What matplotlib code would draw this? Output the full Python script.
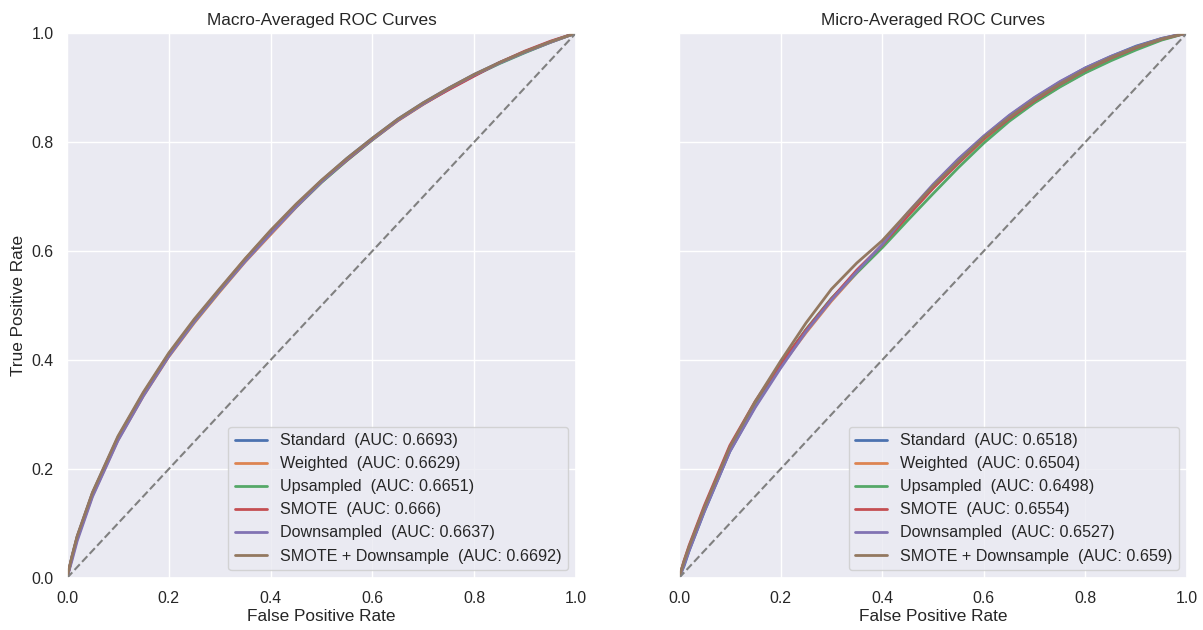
import matplotlib
matplotlib.use("Agg")
import matplotlib.pyplot as plt
import seaborn as sns

sns.set_theme(style="darkgrid", context="notebook")
plt.rcParams['font.family'] = ['Arial', 'Liberation Sans', 'DejaVu Sans']

model_names = ["Standard", "Weighted", "Upsampled", "SMOTE", "Downsampled", "SMOTE + Downsample"]
macro_auc = ["0.6693", "0.6629", "0.6651", "0.666", "0.6637", "0.6692"]
micro_auc = ["0.6518", "0.6504", "0.6498", "0.6554", "0.6527", "0.659"]

fpr = [0, 0.01, 0.02, 0.05, 0.1, 0.15, 0.2, 0.25, 0.3, 0.35, 0.4, 0.45,
       0.5, 0.55, 0.6, 0.65, 0.7, 0.75, 0.8, 0.85, 0.9, 0.95, 1.0]

macro_standard = [0, 0.040, 0.076, 0.156, 0.258, 0.339, 0.411, 0.473, 0.529, 0.584, 0.636, 0.684,
                  0.729, 0.770, 0.807, 0.842, 0.872, 0.899, 0.924, 0.946, 0.966, 0.984, 1.0]
macro_weighted = [0, 0.037, 0.072, 0.151, 0.253, 0.334, 0.406, 0.468, 0.525, 0.580, 0.630, 0.680,
                  0.726, 0.767, 0.804, 0.839, 0.869, 0.897, 0.922, 0.945, 0.965, 0.983, 1.0]
macro_upsampled = [0, 0.039, 0.074, 0.153, 0.255, 0.336, 0.408, 0.470, 0.527, 0.582, 0.633, 0.681,
                   0.726, 0.766, 0.804, 0.840, 0.870, 0.897, 0.922, 0.944, 0.964, 0.983, 1.0]
macro_smote = [0, 0.039, 0.075, 0.155, 0.257, 0.338, 0.410, 0.472, 0.529, 0.585, 0.636, 0.684,
               0.728, 0.767, 0.805, 0.840, 0.870, 0.896, 0.921, 0.946, 0.967, 0.985, 1.0]
macro_downsampled = [0, 0.033, 0.068, 0.149, 0.252, 0.334, 0.407, 0.470, 0.527, 0.581, 0.632, 0.681,
                     0.727, 0.768, 0.805, 0.840, 0.870, 0.898, 0.923, 0.945, 0.965, 0.983, 1.0]
macro_smote_down = [0, 0.041, 0.077, 0.157, 0.260, 0.341, 0.413, 0.475, 0.531, 0.586, 0.638, 0.686,
                    0.730, 0.770, 0.807, 0.842, 0.872, 0.899, 0.924, 0.946, 0.966, 0.984, 1.0]

micro_standard = [0, 0.022, 0.050, 0.122, 0.232, 0.315, 0.388, 0.455, 0.512, 0.562, 0.610, 0.668,
                  0.720, 0.768, 0.810, 0.848, 0.881, 0.910, 0.936, 0.957, 0.976, 0.990, 1.0]
micro_weighted = [0, 0.027, 0.054, 0.126, 0.236, 0.318, 0.388, 0.450, 0.508, 0.560, 0.608, 0.664,
                  0.716, 0.762, 0.804, 0.840, 0.873, 0.902, 0.928, 0.951, 0.971, 0.988, 1.0]
micro_upsampled = [0, 0.030, 0.056, 0.128, 0.238, 0.320, 0.392, 0.456, 0.513, 0.560, 0.606, 0.656,
                   0.705, 0.753, 0.798, 0.838, 0.872, 0.901, 0.927, 0.949, 0.969, 0.987, 1.0]
micro_smote = [0, 0.032, 0.060, 0.133, 0.243, 0.324, 0.393, 0.455, 0.512, 0.565, 0.611, 0.664,
               0.715, 0.761, 0.806, 0.843, 0.876, 0.906, 0.932, 0.954, 0.973, 0.989, 1.0]
micro_downsampled = [0, 0.025, 0.051, 0.123, 0.232, 0.313, 0.385, 0.452, 0.510, 0.562, 0.612, 0.670,
                     0.722, 0.769, 0.811, 0.849, 0.882, 0.911, 0.936, 0.957, 0.975, 0.990, 1.0]
micro_smote_down = [0, 0.031, 0.058, 0.130, 0.240, 0.324, 0.398, 0.468, 0.530, 0.578, 0.619, 0.670,
                    0.719, 0.764, 0.808, 0.845, 0.878, 0.907, 0.933, 0.955, 0.974, 0.989, 1.0]

macro_tpr = [macro_standard, macro_weighted, macro_upsampled, macro_smote, macro_downsampled, macro_smote_down]
micro_tpr = [micro_standard, micro_weighted, micro_upsampled, micro_smote, micro_downsampled, micro_smote_down]

colors = sns.color_palette("deep", 6)

W, H, DPI = 1203, 630, 100
fig = plt.figure(figsize=(W / DPI, H / DPI), dpi=DPI)
ax1 = fig.add_axes([67 / W, 1 - 578 / H, (576 - 67) / W, (578 - 33) / H])
ax2 = fig.add_axes([679 / W, 1 - 578 / H, (1187 - 679) / W, (578 - 33) / H], sharey=ax1)

for ax, tprs, aucs, title in [(ax1, macro_tpr, macro_auc, "Macro-Averaged ROC Curves"),
                              (ax2, micro_tpr, micro_auc, "Micro-Averaged ROC Curves")]:
    for name, t, a, c in zip(model_names, tprs, aucs, colors):
        ax.plot(fpr, t, color=c, lw=2, label=f"{name}  (AUC: {a})")
    ax.plot([0, 1], [0, 1], linestyle="--", color="grey", lw=1.5)
    ax.set_xlim(0, 1)
    ax.set_ylim(0, 1)
    ax.set_title(title, fontsize=12.4)
    ax.set_xlabel("False Positive Rate", fontsize=12.4, labelpad=2)
    ax.tick_params(labelsize=11.4)
    ax.legend(loc="lower right", fontsize=11.6)

ax1.set_ylabel("True Positive Rate", fontsize=12.4)
plt.setp(ax2.get_yticklabels(), visible=False)

fig.savefig("out.png", dpi=DPI)
